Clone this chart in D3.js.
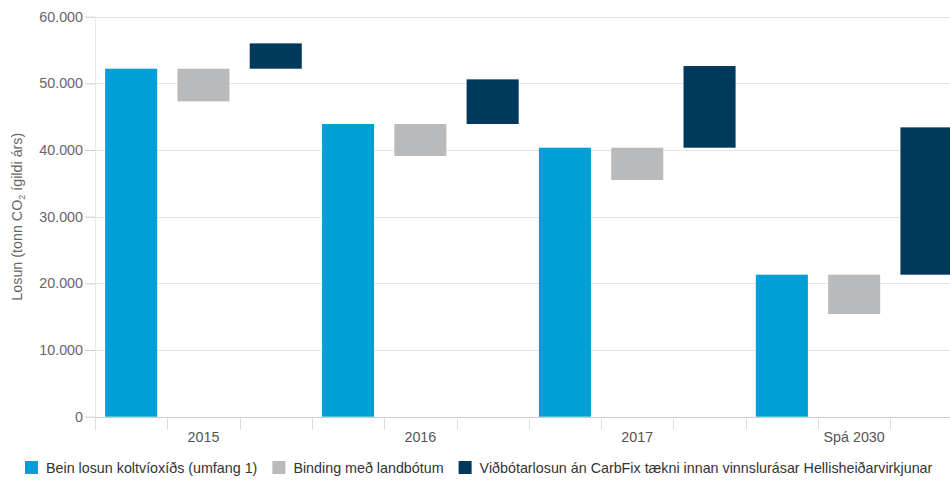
<!DOCTYPE html>
<html>
<head>
<meta charset="utf-8">
<script src="https://cdn.jsdelivr.net/npm/d3@7"></script>
<style>
  html, body { margin: 0; padding: 0; background: #fff; }
  svg { display: block; font-family: "Liberation Sans", Arial, Helvetica, sans-serif; }
</style>
</head>
<body>
<svg id="chart" width="950" height="481"></svg>
<script>
// ---- Data ----
const categories = ["2015", "2016", "2017", "Spá 2030"];
const directEmission = [52200, 43900, 40350, 21300];   // Bein losun koltvíoxíðs (umfang 1)
const landBinding = [4900, 4800, 4850, 5900];           // Binding með landbótum
const extraEmission = [3800, 6700, 12250, 22100];       // Viðbótarlosun án CarbFix ...
const seriesNames = [
  "Bein losun koltvíoxíðs (umfang 1)",
  "Binding með landbótum",
  "Viðbótarlosun án CarbFix tækni innan vinnslurásar Hellisheiðarvirkjunar"
];
const yTicks = [0, 10000, 20000, 30000, 40000, 50000, 60000];
const colors = ["#009fd6", "#b9babc", "#00395b"];

// ---- Layout ----
const svg = d3.select("#chart");
const W = 950, H = 481;
const FS = "14.3px";
const mLeft = 95, mTop = 16.7, mBottom = 416.7;
const slotW = 72.3;
const nSlots = categories.length * 3;
const mRight = mLeft + slotW * nSlots;

const slots = d3.range(nSlots);
const x = d3.scaleBand().domain(slots).range([mLeft, mRight]).paddingInner(0.28).paddingOuter(0.14);
const y = d3.scaleLinear().domain([0, 60000]).range([mBottom, mTop]);

const loc = d3.formatLocale({decimal: ",", thousands: ".", grouping: [3], currency: ["", ""]});
const fmt = loc.format(",");

// gridlines
svg.append("g").selectAll("line").data(yTicks.filter(d => d > 0)).join("line")
  .attr("x1", mLeft).attr("x2", W)
  .attr("y1", d => Math.round(y(d)) + 0.5).attr("y2", d => Math.round(y(d)) + 0.5)
  .attr("stroke", "#e6e6e6").attr("stroke-width", 1);

// left vertical line
svg.append("line").attr("x1", mLeft + 0.5).attr("x2", mLeft + 0.5)
  .attr("y1", mTop).attr("y2", mBottom + 14)
  .attr("stroke", "#e8e6ee").attr("stroke-width", 1);

// y axis
const yAxis = d3.axisLeft(y).tickValues(yTicks).tickFormat(fmt).tickSize(10).tickPadding(2);
const gy = svg.append("g").attr("transform", `translate(${mLeft},0)`).call(yAxis);
gy.select(".domain").remove();
gy.selectAll(".tick line").attr("stroke", "#ccc");
gy.selectAll(".tick text").attr("fill", "#666").style("font-size", FS)
  .style("font-family", "'Liberation Sans', Arial, sans-serif");

// bars
const barData = [];
categories.forEach((c, i) => {
  barData.push({slot: i * 3, y0: 0, y1: directEmission[i], s: 0});
  barData.push({slot: i * 3 + 1, y0: directEmission[i] - landBinding[i], y1: directEmission[i], s: 1});
  barData.push({slot: i * 3 + 2, y0: directEmission[i], y1: directEmission[i] + extraEmission[i], s: 2});
});
svg.append("g").selectAll("rect").data(barData).join("rect")
  .attr("x", d => x(d.slot))
  .attr("width", x.bandwidth())
  .attr("y", d => y(d.y1))
  .attr("height", d => y(d.y0) - y(d.y1))
  .attr("fill", d => colors[d.s]);

// x axis: slot boundary ticks
const boundaries = d3.range(nSlots + 1).map(i => mLeft + slotW * i);
svg.append("line").attr("x1", mLeft).attr("x2", W)
  .attr("y1", Math.round(mBottom) + 0.5).attr("y2", Math.round(mBottom) + 0.5)
  .attr("stroke", "#ccc").attr("stroke-width", 1);
svg.append("g").selectAll("line").data(boundaries).join("line")
  .attr("x1", d => Math.round(d) + 0.5).attr("x2", d => Math.round(d) + 0.5)
  .attr("y1", mBottom).attr("y2", mBottom + 13)
  .attr("stroke", "#ddd").attr("stroke-width", 1);

// category labels
svg.append("g").selectAll("text").data(categories).join("text")
  .attr("x", (d, i) => x(i * 3 + 1) + x.bandwidth() / 2)
  .attr("y", 442)
  .attr("text-anchor", "middle")
  .attr("fill", "#555").style("font-size", FS)
  .text(d => d);

// y axis title
const yt = svg.append("text")
  .attr("transform", `translate(22,${(mTop + mBottom) / 2}) rotate(-90)`)
  .attr("text-anchor", "middle")
  .attr("fill", "#666").style("font-size", FS);
yt.append("tspan").text("Losun (tonn CO");
yt.append("tspan").attr("dy", 3).style("font-size", "9px").text("2");
yt.append("tspan").attr("dy", -3).text(" ígildi árs)");

// legend
const lg = svg.append("g");
let lx = 25;
seriesNames.forEach((name, i) => {
  lg.append("rect").attr("x", lx).attr("y", 461).attr("width", 13).attr("height", 13).attr("fill", colors[i]);
  const t = lg.append("text").attr("x", lx + 21).attr("y", 472.5)
    .attr("fill", "#333").style("font-size", FS).text(name);
  lx += 21 + t.node().getComputedTextLength() + 15;
});
</script>
</body>
</html>
